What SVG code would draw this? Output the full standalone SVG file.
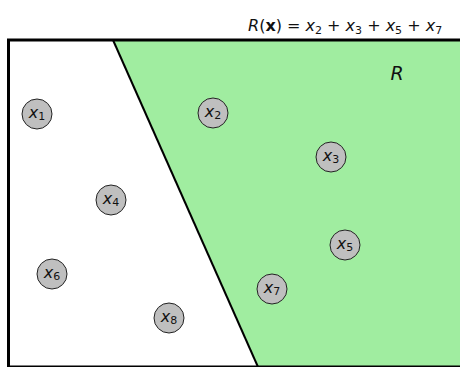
<svg xmlns="http://www.w3.org/2000/svg" width="460" height="367" viewBox="0 0 460 367">
<style>
.pt circle{fill:#bfbfbf;stroke:#222;stroke-width:1}
.lbl{font-family:"DejaVu Sans","Liberation Sans",sans-serif;font-size:16px;font-style:italic;fill:#111;text-anchor:middle}
.sub{font-size:11px;font-style:normal}
.eq{font-family:"DejaVu Sans","Liberation Sans",sans-serif;font-size:16px;fill:#111}
</style>
<rect x="0" y="0" width="460" height="367" fill="#fff"/>
<polygon id="region" points="113,40 460,40 460,367 258,367" fill="#a0eda0"/>
<g id="connectors">
<line x1="113" y1="40" x2="258" y2="367" stroke="#000" stroke-width="2"/>
<path d="M8.5,367 V40 H460" fill="none" stroke="#000" stroke-width="3"/>
<line x1="8" y1="366.5" x2="460" y2="366.5" stroke="#000" stroke-width="2"/>
</g>
<text class="eq" x="248" y="31"><tspan font-style="italic">R</tspan>(<tspan font-weight="bold">x</tspan>) = <tspan font-style="italic">x</tspan><tspan font-size="11" dy="3">2</tspan><tspan dy="-3"> + </tspan><tspan font-style="italic">x</tspan><tspan font-size="11" dy="3">3</tspan><tspan dy="-3"> + </tspan><tspan font-style="italic">x</tspan><tspan font-size="11" dy="3">5</tspan><tspan dy="-3"> + </tspan><tspan font-style="italic">x</tspan><tspan font-size="11" dy="3">7</tspan></text>
<text id="R" x="397" y="80" font-family="DejaVu Sans,Liberation Sans,sans-serif" font-size="19" font-style="italic" fill="#111" text-anchor="middle">R</text>
<g id="x1" class="pt"><circle cx="37" cy="114" r="15"/><text class="lbl" x="37" y="118">x<tspan class="sub" dy="2">1</tspan></text></g>
<g id="x2" class="pt"><circle cx="213" cy="113" r="15"/><text class="lbl" x="213" y="117">x<tspan class="sub" dy="2">2</tspan></text></g>
<g id="x3" class="pt"><circle cx="331" cy="157" r="15"/><text class="lbl" x="331" y="161">x<tspan class="sub" dy="2">3</tspan></text></g>
<g id="x4" class="pt"><circle cx="111" cy="200" r="15"/><text class="lbl" x="111" y="204">x<tspan class="sub" dy="2">4</tspan></text></g>
<g id="x5" class="pt"><circle cx="345" cy="245" r="15"/><text class="lbl" x="345" y="249">x<tspan class="sub" dy="2">5</tspan></text></g>
<g id="x6" class="pt"><circle cx="52" cy="274" r="15"/><text class="lbl" x="52" y="278">x<tspan class="sub" dy="2">6</tspan></text></g>
<g id="x7" class="pt"><circle cx="272" cy="289" r="15"/><text class="lbl" x="272" y="293">x<tspan class="sub" dy="2">7</tspan></text></g>
<g id="x8" class="pt"><circle cx="169" cy="318" r="15"/><text class="lbl" x="169" y="322">x<tspan class="sub" dy="2">8</tspan></text></g>
</svg>
